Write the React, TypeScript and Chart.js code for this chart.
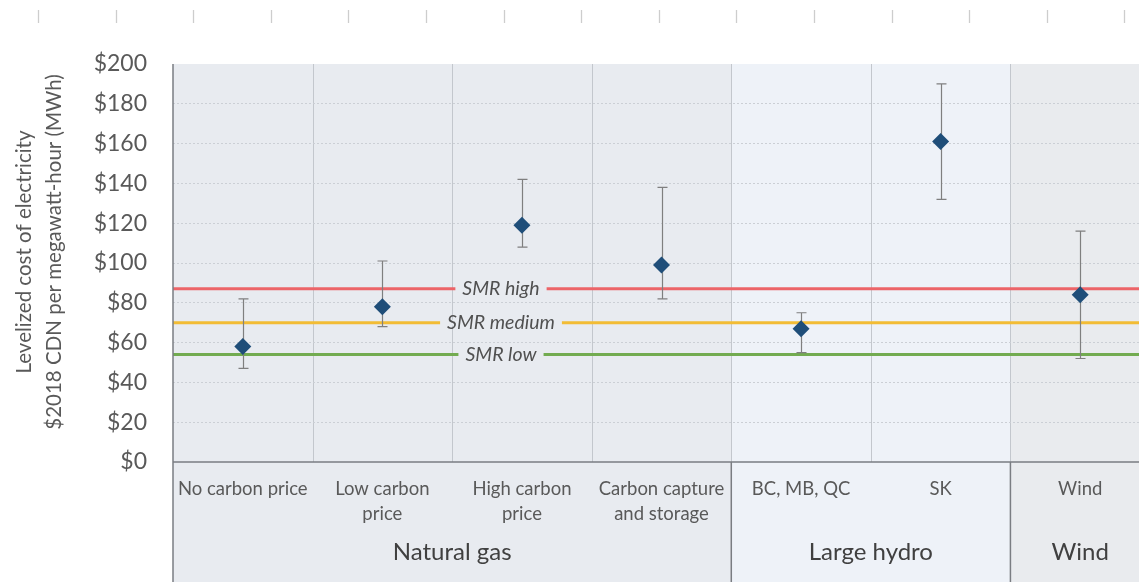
import React, { useEffect, useRef } from "react";
import { Chart, registerables } from "chart.js";

Chart.register(...registerables);

// Levelized cost of electricity, $2018 CDN per MWh
const categories: string[][] = [
  ["No carbon price"],
  ["Low carbon", "price"],
  ["High carbon", "price"],
  ["Carbon capture", "and storage"],
  ["BC, MB, QC"],
  ["SK"],
  ["Wind"],
];
const costMid: number[] = [58, 78, 119, 99, 67, 161, 84];
const costLow: number[] = [47, 68, 108, 82, 55, 132, 52];
const costHigh: number[] = [82, 101, 142, 138, 75, 190, 116];

const groupNames: string[] = ["Natural gas", "Large hydro", "Wind"];
const groupSizes: number[] = [4, 2, 1];
const groupColors: string[] = ["#e8ebf0", "#eef2f8", "#e9ebee"];

// Small modular reactor reference costs
const smrNames: string[] = ["SMR high", "SMR medium", "SMR low"];
const smrValues: number[] = [87, 70, 54];
const smrColors: string[] = ["#ec6468", "#f2bc35", "#72ab50"];
const smrLabelX = 2.35;

const yTicks: number[] = [0, 20, 40, 60, 80, 100, 120, 140, 160, 180, 200];
const yTitle: string[] = ["Levelized cost of electricity", "$2018 CDN per megawatt-hour (MWh)"];

const FONT = "Lato, 'Open Sans', sans-serif";

const tablePlugin = {
  id: "costTable",
  beforeDraw(chart: any) {
    const { ctx, chartArea, scales } = chart;
    const x = scales.x;
    const h = chart.height;
    ctx.save();
    ctx.fillStyle = "#ffffff";
    ctx.fillRect(0, 0, chart.width, h);
    // group backgrounds through plot and table
    let start = 0;
    groupSizes.forEach((n, g) => {
      const x0 = x.getPixelForValue(start);
      const x1 = x.getPixelForValue(start + n);
      ctx.fillStyle = groupColors[g];
      ctx.fillRect(x0, chartArea.top, x1 - x0, h - chartArea.top);
      start += n;
    });
    // category dividers inside the plot
    ctx.strokeStyle = "#c3c7cd";
    ctx.lineWidth = 1;
    for (let i = 1; i < categories.length; i++) {
      const px = Math.round(x.getPixelForValue(i)) + 0.5;
      ctx.beginPath();
      ctx.moveTo(px, chartArea.top);
      ctx.lineTo(px, chartArea.bottom);
      ctx.stroke();
    }
    ctx.restore();
  },
  afterDraw(chart: any) {
    const { ctx, chartArea, scales } = chart;
    const x = scales.x;
    const h = chart.height;
    ctx.save();
    // axis frame and group separators in the table
    ctx.strokeStyle = "#7a7d82";
    ctx.lineWidth = 1.5;
    ctx.beginPath();
    ctx.moveTo(chartArea.left, chartArea.top);
    ctx.lineTo(chartArea.left, h);
    ctx.moveTo(chartArea.left, chartArea.bottom);
    ctx.lineTo(chartArea.right, chartArea.bottom);
    let start = 0;
    groupSizes.forEach((n, g) => {
      start += n;
      if (g < groupSizes.length - 1) {
        const px = x.getPixelForValue(start);
        ctx.moveTo(px, chartArea.bottom);
        ctx.lineTo(px, h);
      }
    });
    ctx.stroke();

    // category labels
    ctx.textAlign = "center";
    ctx.textBaseline = "middle";
    ctx.fillStyle = "#595959";
    ctx.font = `18.5px ${FONT}`;
    categories.forEach((lines, i) => {
      const cx = x.getPixelForValue(i + 0.5);
      lines.forEach((t, j) => {
        ctx.fillText(t, cx, chartArea.bottom + 27 + j * 25);
      });
    });
    // group labels
    ctx.fillStyle = "#404040";
    ctx.font = `24px ${FONT}`;
    start = 0;
    groupSizes.forEach((n, g) => {
      const cx = x.getPixelForValue(start + n / 2);
      ctx.fillText(groupNames[g], cx, chartArea.bottom + 90);
      start += n;
    });

    // y-axis title
    ctx.fillStyle = "#595959";
    ctx.font = `20.5px ${FONT}`;
    const cy = (chartArea.top + chartArea.bottom) / 2 - 11;
    yTitle.forEach((t, j) => {
      ctx.save();
      ctx.translate(24 + j * 30, cy);
      ctx.rotate(-Math.PI / 2);
      ctx.fillText(t, 0, 0);
      ctx.restore();
    });

    // light ruler marks along the top edge
    ctx.strokeStyle = "#cdcdcd";
    ctx.lineWidth = 1.3;
    ctx.beginPath();
    for (let px = 38; px < chart.width; px += 77.6) {
      ctx.moveTo(Math.round(px) + 0.5, 10);
      ctx.lineTo(Math.round(px) + 0.5, 23);
    }
    ctx.stroke();
    ctx.restore();
  },
  beforeDatasetDraw(chart: any, args: any) {
    if (args.index !== 0) return;
    const { ctx, scales } = chart;
    const x = scales.x;
    const y = scales.y;
    ctx.save();
    ctx.strokeStyle = "#7f7f7f";
    ctx.lineWidth = 1.2;
    ctx.beginPath();
    costMid.forEach((_, i) => {
      const px = Math.round(x.getPixelForValue(i + 0.5)) + 0.5;
      const yLo = y.getPixelForValue(costLow[i]);
      const yHi = y.getPixelForValue(costHigh[i]);
      ctx.moveTo(px, yLo);
      ctx.lineTo(px, yHi);
      ctx.moveTo(px - 5, yLo);
      ctx.lineTo(px + 5, yLo);
      ctx.moveTo(px - 5, yHi);
      ctx.lineTo(px + 5, yHi);
    });
    ctx.stroke();
    ctx.restore();
  },
  afterDatasetsDraw(chart: any) {
    const { ctx, scales } = chart;
    const x = scales.x;
    const y = scales.y;
    ctx.save();
    ctx.font = `italic 19.5px ${FONT}`;
    ctx.textAlign = "center";
    ctx.textBaseline = "middle";
    const cx = x.getPixelForValue(smrLabelX);
    const bg = groupColors[0];
    smrNames.forEach((name, i) => {
      const cy = y.getPixelForValue(smrValues[i]);
      const w = ctx.measureText(name).width + 14;
      ctx.fillStyle = bg;
      ctx.fillRect(cx - w / 2, cy - 3, w, 6);
      ctx.fillStyle = "#505050";
      ctx.fillText(name, cx, cy);
    });
    ctx.restore();
  },
};

export default function App() {
  const ref = useRef<HTMLCanvasElement | null>(null);

  useEffect(() => {
    if (!ref.current) return;
    const n = categories.length;
    const chart = new Chart(ref.current, {
      type: "scatter",
      data: {
        datasets: [
          {
            label: "Cost",
            data: costMid.map((v, i) => ({ x: i + 0.5, y: v })),
            pointStyle: "rectRot",
            pointRadius: 8.5,
            pointHoverRadius: 8.5,
            backgroundColor: "#1f4e79",
            borderColor: "#1f4e79",
            borderWidth: 0,
          },
          ...smrValues.map((v, i) => ({
            label: smrNames[i],
            data: [
              { x: 0, y: v },
              { x: n, y: v },
            ],
            showLine: true,
            borderColor: smrColors[i],
            borderWidth: 3,
            pointRadius: 0,
          })),
        ],
      },
      options: {
        animation: false,
        responsive: false,
        maintainAspectRatio: false,
        layout: { padding: { top: 64, right: 10, bottom: 120, left: 0 } },
        plugins: {
          legend: { display: false },
          tooltip: { enabled: false },
        },
        scales: {
          x: {
            type: "linear",
            min: 0,
            max: n,
            display: false,
          },
          y: {
            min: 0,
            max: 200,
            afterBuildTicks: (scale: any) => {
              scale.ticks = yTicks.map((v) => ({ value: v }));
            },
            afterFit: (scale: any) => {
              scale.width = 173;
            },
            border: { display: false, dash: [2, 2] },
            grid: {
              drawTicks: false,
              lineWidth: 1,
              color: (c: any) =>
                c.tick && (c.tick.value === 0 || c.tick.value === 200) ? "rgba(0,0,0,0)" : "#cbcfd5",
            },
            ticks: {
              padding: 26,
              color: "#595959",
              font: { family: FONT, size: 23 },
              callback: (v: any) => "$" + v,
            },
          },
        },
      },
      plugins: [tablePlugin],
    });
    return () => chart.destroy();
  }, []);

  return (
    <div
      style={{
        position: "fixed",
        left: 0,
        top: 0,
        width: 1139,
        height: 582,
        overflow: "hidden",
        background: "#ffffff",
      }}
    >
      <canvas ref={ref} width={1160} height={582} style={{ display: "block", width: 1160, height: 582 }} />
    </div>
  );
}
